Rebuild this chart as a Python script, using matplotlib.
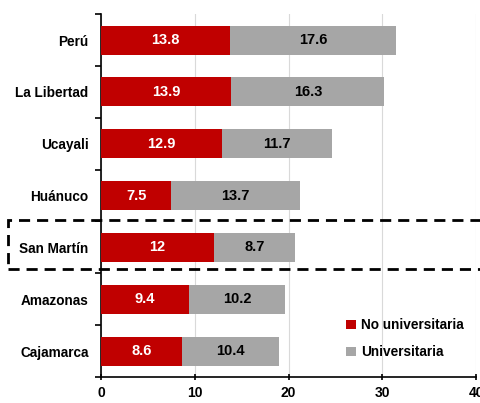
import matplotlib.pyplot as plt
from matplotlib.patches import Rectangle

plt.rcParams['font.family'] = ['Liberation Sans', 'DejaVu Sans']

regions = ['Perú', 'La Libertad', 'Ucayali', 'Huánuco', 'San Martín', 'Amazonas', 'Cajamarca']
no_univ = [13.8, 13.9, 12.9, 7.5, 12, 9.4, 8.6]
univ = [17.6, 16.3, 11.7, 13.7, 8.7, 10.2, 10.4]
no_univ_labels = ['13.8', '13.9', '12.9', '7.5', '12', '9.4', '8.6']
univ_labels = ['17.6', '16.3', '11.7', '13.7', '8.7', '10.2', '10.4']

red = '#C00000'
gray = '#A6A6A6'

fig = plt.figure(figsize=(4.81, 4.03), dpi=100)
ax = fig.add_axes([0.21, 0.0645, 0.78, 0.9005])

pos = list(range(len(regions)))[::-1]
ax.barh(pos, no_univ, height=0.56, color=red, label='No universitaria', zorder=3)
ax.barh(pos, univ, left=no_univ, height=0.56, color=gray, label='Universitaria', zorder=3)

for p, v, lab in zip(pos, no_univ, no_univ_labels):
    ax.text(v / 2, p, lab, ha='center', va='center', color='white',
            fontsize=10.5, fontweight='bold', zorder=4)
for p, s, v, lab in zip(pos, no_univ, univ, univ_labels):
    ax.text(s + v / 2, p, lab, ha='center', va='center', color='black',
            fontsize=10.5, fontweight='bold', zorder=4)

ax.set_xlim(0, 40)
ax.set_ylim(-0.5, len(regions) - 0.5)
ax.set_xticks([0, 10, 20, 30, 40])
ax.set_yticks(pos)
ax.set_yticklabels(regions, fontsize=9.8, fontweight='bold')
ax.set_yticks([i - 0.5 for i in range(len(regions) + 1)], minor=True)
ax.tick_params(axis='y', which='major', length=0, pad=9)
ax.tick_params(axis='y', which='minor', length=4, width=1.2, direction='out')
ax.tick_params(axis='x', length=5, width=1.2, direction='inout', labelsize=10, pad=4)
for t in ax.get_xticklabels():
    t.set_fontweight('bold')

ax.grid(axis='x', color='#D9D9D9', linewidth=0.8, zorder=0)
for s in ['top', 'right']:
    ax.spines[s].set_visible(False)
ax.spines['left'].set_linewidth(1.2)
ax.spines['bottom'].set_linewidth(1.2)

ax.legend(loc='lower right', bbox_to_anchor=(1.0, 0.015), frameon=False,
          handlelength=0.7, handleheight=0.7, handletextpad=0.4,
          labelspacing=0.95, prop={'weight': 'bold', 'size': 9.8})

# dashed highlight around San Martín
rect = Rectangle((8 / 481, 1 - 269 / 403), 480 / 481, 49 / 403,
                 transform=fig.transFigure, fill=False, edgecolor='black',
                 linestyle=(0, (4, 2.5)), linewidth=2, clip_on=False, zorder=5)
fig.patches.append(rect)

fig.savefig('out.png', dpi=100)
